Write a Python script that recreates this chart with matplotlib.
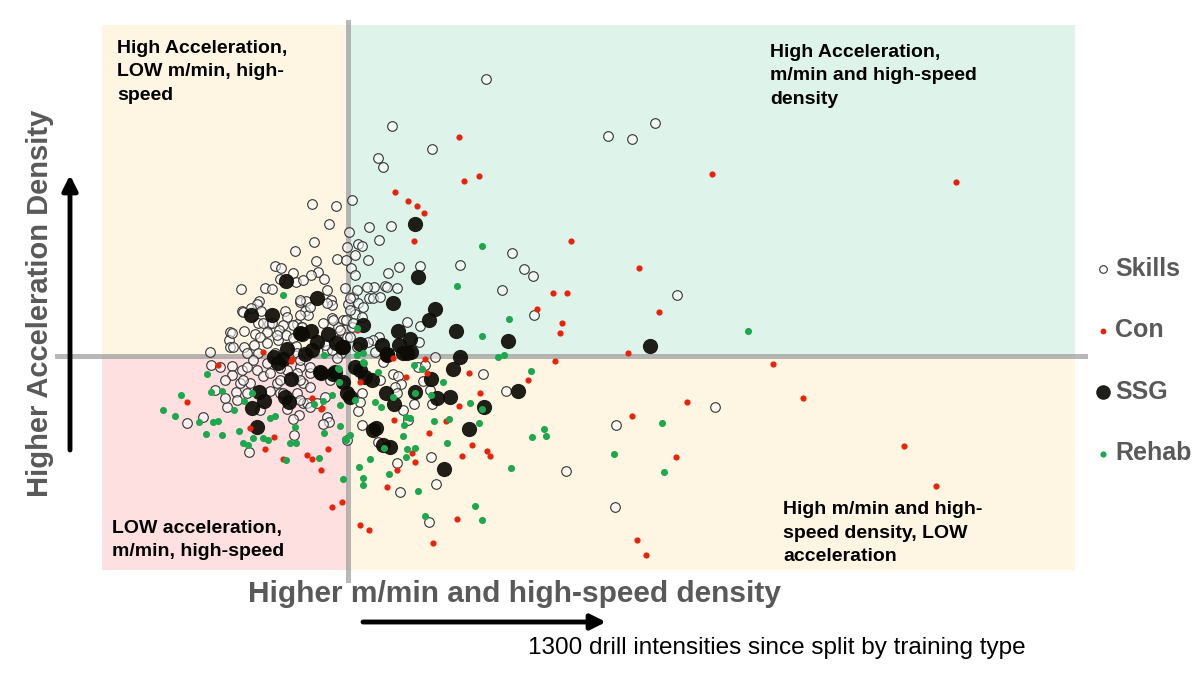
import numpy as np
import matplotlib
matplotlib.use('Agg')
import matplotlib.pyplot as plt
from matplotlib.patches import Rectangle

plt.rcParams['font.family'] = ['Liberation Sans', 'DejaVu Sans']

# drill intensities, centred on the split (0, 0)
# x = m/min & high-speed density, y = acceleration density
skills_x = [138, 44, 84, 30, 35, 260, 284, 307,
            -36, -12, -19, -34, -53, -32, -11, -2, -73, -67, -55, -30, -37, -68, -52, -45, -24,
            -107, -83, -76, -21, -3, -89, -91, -48, -42, -17, -16, -106, -97, -87, -63, -43, -40,
            -61, -16, -5, -90, -79, -65, -51, -25, -118, -104, -93, -81, -69, -62, -47, -10,
            -119, -88, -70, -55, -118, -104, -94, -81, -52, -21, -7, -138, -101, -90, -73, -51,
            4, 21, 43, 1, 31, 10, 14, -1, 7, 20, 3, 51, 72, 112, 40, 7, 164, 176, 185, 37, 26,
            49, 154, 5, 21, 10, 0, 7, 14, -2, 59, 72, 186, 4, 31, 25, 71, 20, 27, 87, -1,
            329, 367, 268, 218, 267,
            -137, -128, -116, -106, -101, -91, -85, -108, -98, -112, -121, -145, -161, -71, -78,
            -68, -51, -45, -38, -48, -61, -81, -45, -61, -49, -55, -41, -31, -23, -21, -19, -25,
            -54, -99, -6, -11,
            135, 45, 50, 75, 32, 53, 47, 49, 14, 82, 84, 66, 55, 60, 10, 14, -1, 30, 158, 83,
            49, 88, 52, 81, 70, 77, 35, 12,
            -105, -116, -115, -95, -116, -123, -105, -85, -76, -71, -48, -38, -21, -48, -55, -46,
            -15, -8, -11, -16, -23, -48, -38, -51, -68, -78, -68, -48, -38, -18, -65, -48, -38,
            -101, -111, -88, 2, 9, 19, 25, 15, 2, 5, 2, 9, 32, 39, -123, -133]
skills_y = [277, 230, 207, 198, 189, 220, 217, 233,
            152, 150, 132, 114, 105, 95, 97, 96, 90, 88, 83, 84, 81, 77, 74, 76, 77,
            67, 68, 67, 66, 68, 55, 52, 54, 55, 56, 51, 45, 48, 45, 45, 45, 41,
            39, 38, 36, 33, 32, 31, 32, 33, 24, 25, 22, 24, 26, 21, 29, 29,
            16, 19, 16, 18, 9, 9, 11, 13, 10, 6, 3, 4, 3, 3, 3, 3,
            156, 129, 130, 124, 116, 112, 110, 109, 101, 96, 88, 89, 90, 91, 83, 81, 103, 87, 80, 70, 69,
            68, 66, 59, 58, 53, 52, 42, 39, 36, 34, 30, 41, 29, 19, 16, 14, 14, 4, -1, 19,
            61, -51, -69, -115, -151,
            -9, -11, -10, -14, -11, -14, -20, -27, -27, -36, -51, -61, -67, -27, -35,
            -37, -37, -27, -17, -11, -14, -7, -47, -53, -59, -63, -47, -47, -41, -61, -66, -68,
            -79, -96, -27, -2,
            -18, -18, -20, -25, -24, -28, -31, -37, -37, -34, -48, -48, -54, -64, -55, -69, -84, -86, -35, -101,
            -107, -128, -136, -166, -11, -9, -6, -46,
            44, 23, 9, -4, -19, -24, -24, 33, 33, 21, 56, 49, 53, 41, 31, 29,
            36, 26, 16, 6, 11, -4, -11, -17, -12, -17, -24, -24, -31, -24, -37, -44, -51,
            -37, -44, -54, 58, 66, 69, 58, 49, 46, 33, 19, 9, 59, 69, -42, -34]

con_x = [111, 116, 131, 364, 608, 47, 60, 69, 76, 66, 223, 291, 205, 219, 311, 189, 214,
         212, 280, 207, 425, 455, 339, 284, 328, 556, 588, 289, 298, 45, 77, 121, 180, 58, 12,
         132, 111, 46, 98, 81, 124, 139, 142, 114, 64, 67, 49, 39, -6, -16, 109, 12, 21, 85,
         79, -85, -56, -130, -161, -98, -74, -83, -65, -41, -36, -27, -20, -27, -36, -57, 9, -26]
con_y = [219, 175, 180, 182, 174, 164, 155, 150, 143, 115, 115, 88, 63, 63, 44, 47, 33,
         23, 3, -5, -8, -42, -46, -60, -101, -90, -130, -184, -199, -2, -3, -17, -24, -21, -26,
         -37, -50, -64, -65, -77, -89, -95, -100, -100, -97, -106, -114, -131, -146, -151, -163, -169, -174, -187,
         -17, 4, -3, -9, -46, -72, -81, -93, -103, -99, -103, -114, -93, -53, -42, -5, 26, -52]

ssg_x = [67, 70, 45, 87, 81, 50, 108, 160, 15, 12, 34, 51, 62, 63, 55, 39, 112, -5, 302,
         -62, -31, -97, -76, -46, -37, -20, -31, -12, -6, -61, -36, -43, -74, -65, -70, -57,
         -27, -15, -5, -89, -84, -96, -63, -59, -91,
         105, 83, 38, 67, 89, 102, 46, 136, 170, 121, 25, 28, 35, 42, 96, 7, 12, -1, 2, 24,
         17, 39, 59, -48, -13, -28]
ssg_y = [132, 79, 53, 47, 36, 25, 25, 15, 31, 12, 11, 11, 17, 4, 3, 2, -1, 9, 10,
         75, 58, 41, 41, 22, 25, 22, 14, 13, 9, 7, 6, 2, -1, -3, -7, -23,
         -17, -18, -26, -36, -45, -52, -41, -46, -71,
         -13, -23, -37, -36, -42, -41, -48, -51, -35, -73, -74, -72, -89, -91, -113, -11, -14, -37, -41, -24,
         -21, 1, 3, 23, -16, -16]

rehab_x = [134, 109, 161, 134, 9, 15, 150, 156, 400, 196, 198, 314, 266, 316, -65, -24,
           -141, -167, -137, -126, -185, -173, -149, -135, -130, -142, -126, -114, -104, -109,
           -105, -100, -95, -85, -80, -78, -73, -58, -52, -53, -24, -25, -34, -16, -8, -8, -2,
           -29, -62, -5, -9, -9, -96,
           183, 95, 67, 83, 27, 33, 7, 122, 134, 58, 62, 56, 86, 101, 131, 55, 99, 59, 67, 58,
           22, 11, 41, 15, 15, 70, 163, 184, 127, 134, 77, 2, -3, 36, 16, 30, 66, 74,
           -10, 15, 9, 45]
rehab_y = [110, 70, 37, 20, 28, 3, -1, 1, 25, -73, -80, -67, -98, -116, 61, 1,
           -18, -39, -36, -35, -54, -60, -66, -66, -65, -78, -79, -54, -45, -75,
           -87, -89, -82, -82, -84, -62, -60, -87, -87, -71, -77, -45, -48, -39, -49, -70, -84,
           -102, -104, -123, -13, -26, -37,
           -15, -26, -37, -39, -46, -51, -44, -47, -53, -61, -62, -69, -65, -63, -67, -80, -87, -93, -92, -101,
           -103, -111, -118, -122, -129, -135, -112, -81, -150, -164, -160, -79, -83, -92, -7, -16, -9, -13,
           -12, -6, 1, -41]

quadrant_text = ["High Acceleration,\nLOW m/min, high-\nspeed",
                 "High Acceleration,\nm/min and high-speed\ndensity",
                 "LOW acceleration,\nm/min, high-speed",
                 "High m/min and high-\nspeed density, LOW\nacceleration"]

x_min, x_max = -246, 727
y_min, y_max = -214, 331

fig = plt.figure(figsize=(12, 6.75), dpi=100)
ax = fig.add_axes([102/1200, 1-570/675, 973/1200, 545/675])
ax.set_xlim(x_min, x_max)
ax.set_ylim(y_min, y_max)
ax.axis('off')

# quadrant backgrounds
ax.add_patch(Rectangle((x_min, 0), -x_min, y_max, color='#fef6e2', zorder=0))
ax.add_patch(Rectangle((0, 0), x_max, y_max, color='#def4ea', zorder=0))
ax.add_patch(Rectangle((x_min, y_min), -x_min, -y_min, color='#fde0df', zorder=0))
ax.add_patch(Rectangle((0, y_min), x_max, -y_min, color='#fef6e2', zorder=0))

# split lines
ax.plot([0, 0], [y_max + 3, y_min - 10], color='#9a9a9a', alpha=0.7, lw=3.6, clip_on=False, zorder=1)
ax.plot([-291, 737], [0, 0], color='#9a9a9a', alpha=0.7, lw=3.6, clip_on=False, zorder=1)

sk = ax.scatter(skills_x, skills_y, s=48, facecolors=(1, 1, 1, 0.55), edgecolors='#333333',
                linewidths=0.8, zorder=2, label='Skills')
sg = ax.scatter(ssg_x, ssg_y, s=120, color='#0d0b06', alpha=0.92, linewidths=0, zorder=3, label='SSG')
cn = ax.scatter(con_x, con_y, s=20, color='#e8230c', linewidths=0, zorder=4, label='Con')
rh = ax.scatter(rehab_x, rehab_y, s=26, color='#1ea84e', linewidths=0, zorder=5, label='Rehab')

txt_kw = dict(fontsize=14, fontweight='bold', color='black', va='top', ha='left',
              linespacing=1.5, zorder=6)
ax.text(-231, 316, quadrant_text[0], **txt_kw)
ax.text(422, 312, quadrant_text[1], **txt_kw)
ax.text(-236, -164, quadrant_text[2], **txt_kw)
ax.text(435, -145, quadrant_text[3], **txt_kw)

fig.text(40/1200, 1-303/675, 'Higher Acceleration Density', rotation=90, fontsize=21,
         fontweight='bold', color='#595959', ha='center', va='center')
fig.text(514/1200, 1-594/675, 'Higher m/min and high-speed density', fontsize=21.5,
         fontweight='bold', color='#595959', ha='center', va='center')
fig.text(777/1200, 1-648/675, '1300 drill intensities since split by training type',
         fontsize=17.5, color='black', ha='center', va='center')

arrow = dict(arrowstyle='-|>,head_width=0.45,head_length=0.9', color='black', lw=3.5,
             shrinkA=0, shrinkB=0)
ax.annotate('', xy=(606/1200, 1-622/675), xytext=(363/1200, 1-622/675),
            xycoords='figure fraction', textcoords='figure fraction', arrowprops=arrow)
ax.annotate('', xy=(70/1200, 1-175/675), xytext=(70/1200, 1-450/675),
            xycoords='figure fraction', textcoords='figure fraction', arrowprops=arrow)

leg = fig.legend(handles=[sk, cn, sg, rh], labels=['Skills', 'Con', 'SSG', 'Rehab'],
                 loc='center left', bbox_to_anchor=(1080/1200, 1-361/675), frameon=False,
                 fontsize=18, labelspacing=1.5, handlelength=0.8, handletextpad=0.1,
                 borderpad=0, scatterpoints=1)
sizes = [30, 18, 110, 20]
for h, s in zip(leg.legend_handles, sizes):
    h.set_sizes([s])
for t in leg.get_texts():
    t.set_color('#595959')
    t.set_fontweight('bold')

fig.savefig('out.png', dpi=100)
